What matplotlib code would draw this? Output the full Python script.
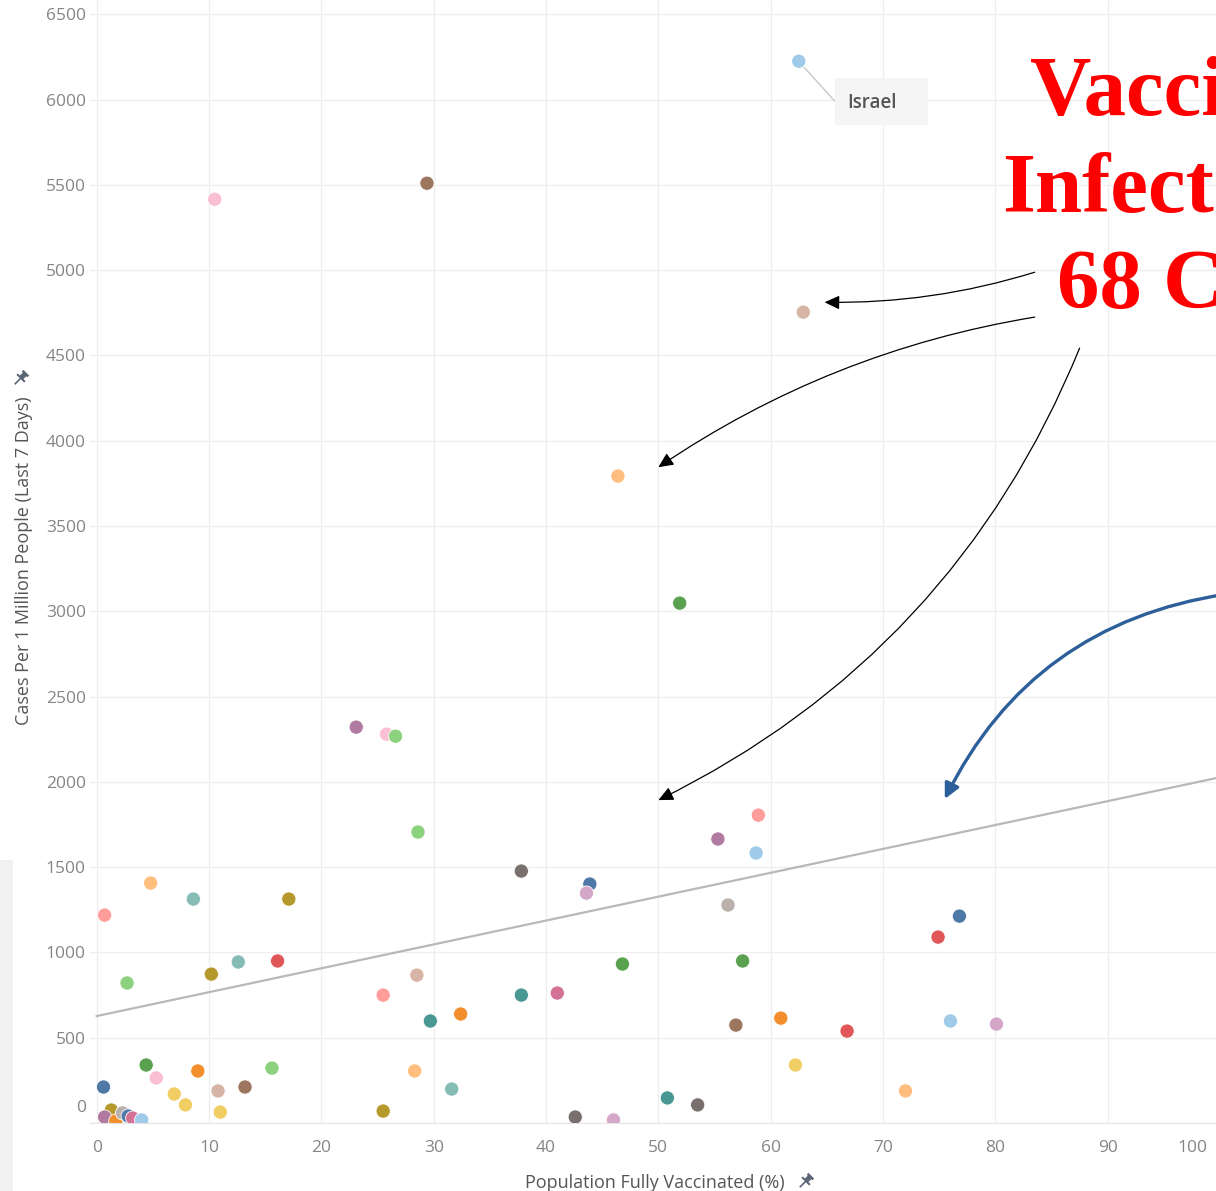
import numpy as np
import matplotlib.pyplot as plt
from matplotlib.patches import Polygon, Rectangle
from matplotlib.transforms import ScaledTranslation

plt.close('all')

W, H = 1216, 1191

# Tableau 20 colours
BLUE, LBLUE = '#4e79a7', '#a0cbe8'
ORANGE, LORANGE = '#f28e2b', '#ffbe7d'
GREEN, LGREEN = '#59a14f', '#8cd17d'
OLIVE, YELLOW = '#b6992d', '#f1ce63'
TEAL, LTEAL = '#499894', '#86bcb6'
RED, LRED = '#e15759', '#ff9d9a'
GRAY, LGRAY = '#79706e', '#bab0ac'
PINK, LPINK = '#d37295', '#fabfd2'
PURPLE, LPURPLE = '#b07aa1', '#d4a6c8'
BROWN, TAN = '#9d7660', '#d7b5a6'

# data
vaccinated = [62.5, 10.5, 29.4, 62.9, 46.4, 51.9, 23.1, 25.8, 26.6, 28.6,
              37.8, 43.9, 43.6, 55.3, 58.9, 58.7, 56.2, 57.5, 56.9, 60.9,
              66.8, 74.9, 76.8, 76.0, 80.1, 62.2, 72.0, 0.7, 4.8, 8.6,
              17.1, 2.7, 10.2, 12.6, 16.1, 25.5, 28.5, 29.7, 32.4, 37.8,
              41.0, 46.8, 4.4, 5.3, 9.0, 15.6, 0.6, 6.9, 7.9, 10.8,
              13.2, 11.0, 1.3, 0.7, 1.7, 2.3, 2.8, 3.2, 4.0, 28.3,
              31.6, 25.5, 42.6, 46.0, 50.8, 53.5]
cases = [6225, 5416, 5510, 4754, 3793, 3048, 2321, 2280, 2268, 1706,
         1477, 1401, 1348, 1665, 1805, 1583, 1278, 950, 574, 615,
         539, 1090, 1213, 598, 580, 340, 188, 1219, 1407, 1313,
         1313, 821, 873, 944, 950, 750, 867, 598, 639, 750,
         762, 932, 340, 264, 305, 322, 211, 170, 106, 188,
         211, 64, 76, 35, 12, 59, 41, 29, 18, 305,
         199, 70, 35, 18, 147, 106]
colors = [LBLUE, LPINK, BROWN, TAN, LORANGE, GREEN, PURPLE, LPINK, LGREEN, LGREEN,
          GRAY, BLUE, LPURPLE, PURPLE, LRED, LBLUE, LGRAY, GREEN, BROWN, ORANGE,
          RED, RED, BLUE, LBLUE, LPURPLE, YELLOW, LORANGE, LRED, LORANGE, LTEAL,
          OLIVE, LGREEN, OLIVE, LTEAL, RED, LRED, TAN, TEAL, ORANGE, TEAL,
          PINK, GREEN, GREEN, LPINK, ORANGE, LGREEN, BLUE, YELLOW, YELLOW, TAN,
          BROWN, YELLOW, OLIVE, PURPLE, ORANGE, LGRAY, BLUE, PINK, LBLUE, LORANGE,
          LTEAL, OLIVE, GRAY, LPURPLE, TEAL, GRAY]

trend_x = [0, 100]
trend_y = [627, 2027]

x_ticks = list(range(0, 101, 10))
y_ticks = list(range(0, 6501, 500))


def fx(px):
    return px / W


def fy(py):
    return 1 - py / H


fig = plt.figure(figsize=(W / 100, H / 100), dpi=100)
fig.patch.set_facecolor('white')

# faint grey band at the left edge of the screenshot
fig.add_artist(Rectangle((0, 0), fx(13), fy(860), transform=fig.transFigure,
                         facecolor='#f1f1f1', edgecolor='none', zorder=0))

ax = fig.add_axes([fx(90), fy(1123), fx(1220 - 90), (1123 + 1) / H])
ax.set_xlim(-0.6, 100)
ax.set_ylim(0, 6590)

ax.set_xticks(x_ticks)
ax.set_yticks(y_ticks)
ax.grid(True, color='#eeeeee', linewidth=0.9)
ax.set_axisbelow(True)
for side in ['top', 'right', 'left']:
    ax.spines[side].set_visible(False)
ax.spines['bottom'].set_color('#e4e4e4')
ax.tick_params(length=0, labelsize=12.5, labelcolor='#858585')
ax.tick_params(axis='y', pad=3)
ax.tick_params(axis='x', pad=12)
for lbl in ax.get_xticklabels() + ax.get_yticklabels():
    lbl.set_fontfamily('Open Sans')

# Tableau keeps the edge labels inside the pane
ylbls = ax.get_yticklabels()
ylbls[0].set_transform(ylbls[0].get_transform() + ScaledTranslation(0, 12 / 72, fig.dpi_scale_trans))
xlbls = ax.get_xticklabels()
xlbls[-1].set_transform(xlbls[-1].get_transform() + ScaledTranslation(-20 / 72, 0, fig.dpi_scale_trans))

ax.set_xlabel('Population Fully Vaccinated (%)', fontsize=13, color='#555555',
              family='Open Sans', labelpad=13)
ax.set_ylabel('Cases Per 1 Million People (Last 7 Days)', fontsize=13, color='#555555',
              family='Open Sans', labelpad=9)

# trend line and points
ax.plot(trend_x, trend_y, color='#b8b8b8', linewidth=1.6, zorder=2)
ax.scatter(vaccinated, cases, s=105, c=colors, edgecolors='white', linewidths=0.6, zorder=3)

# Israel label
ax.add_patch(Rectangle((65.7, 5850), 8.3, 275, facecolor='#f5f5f5', edgecolor='none', zorder=4))
ax.text(66.8, 5979, 'Israel', ha='left', va='center', fontsize=13.5, color='#555555',
        family='Open Sans', fontweight='semibold', zorder=5)
ax.annotate('', xy=(65.7, 5991), xytext=(vaccinated[0], cases[0]),
            arrowprops=dict(arrowstyle='-', color='#c8c8c8', linewidth=1,
                            shrinkA=6, shrinkB=0), zorder=4)

# black callout arrows
black_arrows = [((83.5, 4988), (64.8, 4812), -0.08),
                ((83.5, 4725), (50.0, 3845), 0.11),
                ((87.5, 4543), (50.0, 1893), -0.19)]
for start, end, rad in black_arrows:
    ax.annotate('', xy=end, xytext=start, annotation_clip=False,
                arrowprops=dict(arrowstyle='-|>,head_length=0.9,head_width=0.42',
                                color='black', linewidth=0.9, shrinkA=0, shrinkB=0,
                                connectionstyle='arc3,rad=%s' % rad))

# blue arrow to the trend line
ax.annotate('', xy=(75.5, 1900), xytext=(100.5, 3100), annotation_clip=False,
            arrowprops=dict(arrowstyle='-|>,head_length=0.9,head_width=0.45',
                            color='#2d5f9a', linewidth=2.4, shrinkA=0, shrinkB=0,
                            connectionstyle='arc3,rad=0.26'))

# big red headline (cut off by the screenshot edge, as in the source)
red_kw = dict(color='#ff0000', fontsize=61, fontweight='bold', family='Liberation Serif',
              ha='left', va='baseline')
fig.text(fx(1030), fy(115), 'Vacci', **red_kw)
fig.text(fx(1002), fy(212), 'Infect', **red_kw)
fig.text(fx(1057), fy(308), '68 C', **red_kw)


# little pin icons next to the axis titles
def pin(cx, cy):
    u = np.array([1, -1]) / np.sqrt(2)
    v = np.array([1, 1]) / np.sqrt(2)
    c = np.array([cx, cy])
    pts = [c - 2.5 * v, c + 2.5 * v, c + 2.5 * v + 5 * u, c + 4 * v + 5 * u,
           c + 4 * v + 7.5 * u, c - 4 * v + 7.5 * u, c - 4 * v + 5 * u, c - 2.5 * v + 5 * u]
    bar = [c - 5.5 * v - 1 * u, c + 5.5 * v - 1 * u, c + 5.5 * v + 1 * u, c - 5.5 * v + 1 * u]
    for shape in (pts, bar):
        fig.add_artist(Polygon([(fx(p[0]), fy(p[1])) for p in shape], closed=True,
                               transform=fig.transFigure, facecolor='#5b6575',
                               edgecolor='none'))
    n0, n1 = c - 8 * u, c
    fig.add_artist(plt.Line2D([fx(n0[0]), fx(n1[0])], [fy(n0[1]), fy(n1[1])],
                              transform=fig.transFigure, color='#5b6575', linewidth=1.2))


pin(21, 378)
pin(806, 1181)

fig.savefig('out.png', dpi=100)
